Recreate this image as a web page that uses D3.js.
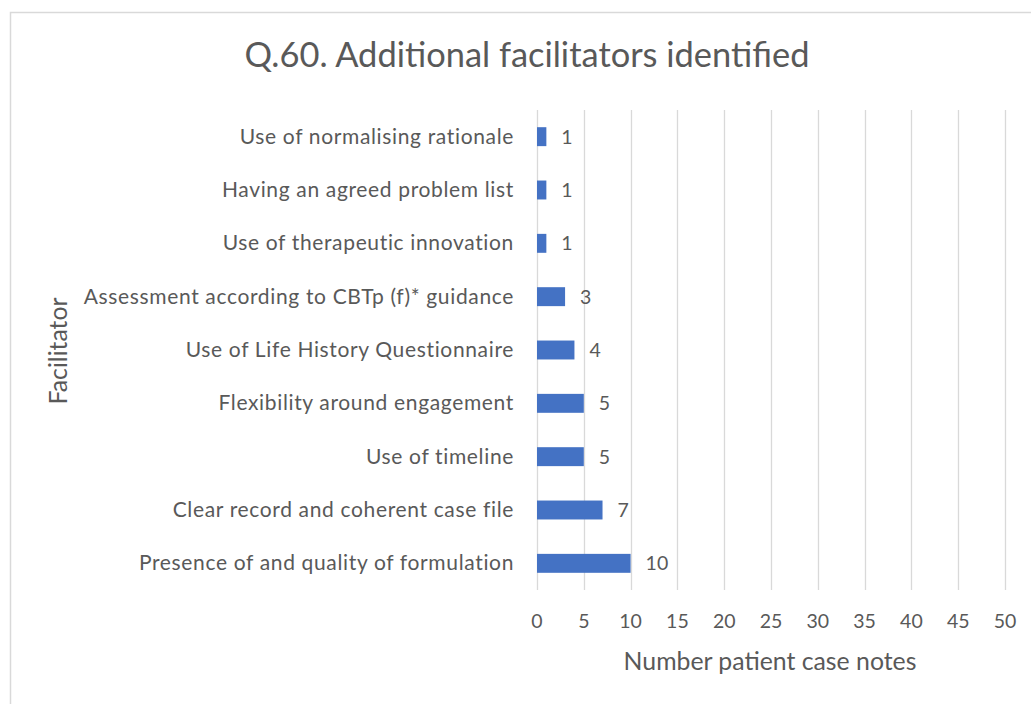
<!DOCTYPE html>
<html>
<head>
<meta charset="utf-8">
<script src="https://cdn.jsdelivr.net/npm/d3@7"></script>
<style>
  body { margin: 0; background: #fff; }
  svg text { font-family: Lato, "Open Sans", sans-serif; fill: #595959; }
</style>
</head>
<body>
<div id="chart"></div>
<script>
// data, top to bottom
const facilitators = [
  "Use of normalising rationale",
  "Having an agreed problem list",
  "Use of therapeutic innovation",
  "Assessment according to CBTp (f)* guidance",
  "Use of Life History Questionnaire",
  "Flexibility around engagement",
  "Use of timeline",
  "Clear record and coherent case file",
  "Presence of and quality of formulation"
];
const counts = [1, 1, 1, 3, 4, 5, 5, 7, 10];
const xTicks = [0, 5, 10, 15, 20, 25, 30, 35, 40, 45, 50];

const W = 1031, H = 704;
const plot = {left: 537, right: 1005, top: 110, bottom: 590};

const svg = d3.select("#chart").append("svg")
  .attr("width", W).attr("height", H);

// size a text so its width matches what the reference shows
function fitWidth(sel, target) {
  const node = sel.node();
  const fs = parseFloat(sel.style("font-size"));
  const w = node.getComputedTextLength();
  sel.style("font-size", (fs * target / w) + "px");
}

// chart frame
svg.append("rect")
  .attr("x", 10.5).attr("y", 12.5)
  .attr("width", W + 20).attr("height", H + 20)
  .attr("fill", "none").attr("stroke", "#d9d9d9").attr("stroke-width", 1.5);

const x = d3.scaleLinear().domain([0, 50]).range([plot.left, plot.right]);
const y = d3.scaleBand().domain(facilitators).range([plot.top, plot.bottom])
  .paddingInner(0.645).paddingOuter(0.3225);

// gridlines
svg.append("g").selectAll("line")
  .data(xTicks).enter().append("line")
  .attr("x1", d => Math.round(x(d)) + 0.5).attr("x2", d => Math.round(x(d)) + 0.5)
  .attr("y1", plot.top).attr("y2", plot.bottom)
  .attr("stroke", "#d9d9d9").attr("stroke-width", 1.3);

const base = 19.5;

// x tick labels
svg.append("g").selectAll("text")
  .data(xTicks).enter().append("text")
  .attr("x", d => x(d)).attr("y", 628)
  .attr("text-anchor", "middle")
  .style("font-size", base + "px")
  .text(d => d);

// category labels
svg.append("g").selectAll("text")
  .data(facilitators).enter().append("text")
  .attr("x", 514).attr("y", d => y(d) + y.bandwidth() / 2 + 7)
  .attr("text-anchor", "end")
  .style("font-size", "21px")
  .style("letter-spacing", "0.65px")
  .text(d => d);

// bars
svg.append("g").selectAll("rect")
  .data(counts).enter().append("rect")
  .attr("x", x(0))
  .attr("y", (d, i) => y(facilitators[i]))
  .attr("width", d => x(d) - x(0))
  .attr("height", y.bandwidth())
  .attr("fill", "#4472c4");

// value labels
svg.append("g").selectAll("text")
  .data(counts).enter().append("text")
  .attr("x", d => x(d) + 15)
  .attr("y", (d, i) => y(facilitators[i]) + y.bandwidth() / 2 + 7)
  .style("font-size", base + "px")
  .text(d => d);

// titles
const title = svg.append("text")
  .attr("x", 527).attr("y", 67)
  .attr("text-anchor", "middle")
  .style("font-size", "32px")
  .text("Q.60. Additional facilitators identified");
fitWidth(title, 565);

const xTitle = svg.append("text")
  .attr("x", 770).attr("y", 670)
  .attr("text-anchor", "middle")
  .style("font-size", base + "px")
  .text("Number patient case notes");
fitWidth(xTitle, 293);

const yTitle = svg.append("text")
  .attr("transform", "translate(67,351) rotate(-90)")
  .attr("text-anchor", "middle")
  .style("font-size", base + "px")
  .text("Facilitator");
fitWidth(yTitle, 107);
</script>
</body>
</html>
